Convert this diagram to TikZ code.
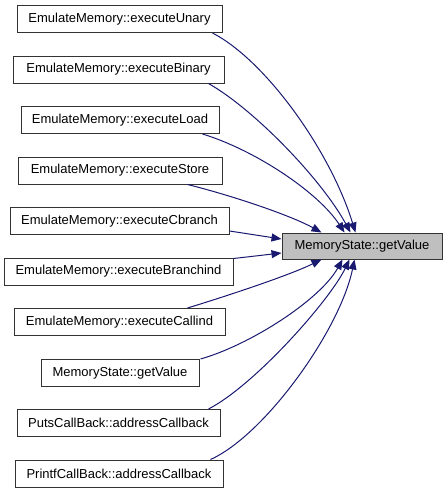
\documentclass[tikz,border=0pt]{standalone}
\usepackage{fontspec}
\setmainfont{Liberation Sans}
\definecolor{edgeblue}{RGB}{25,25,112}
\definecolor{nodegray}{RGB}{191,191,191}
\usetikzlibrary{arrows.meta,calc}

\tikzset{
  fn/.style={draw=black!80,line width=0.75pt,fill=white,inner sep=0pt,minimum height=20.25pt,
    font=\fontsize{9.75}{11}\selectfont},
  call/.style={edgeblue,line width=0.75pt,-{Triangle[length=7.5pt,width=6pt]}}
}

\begin{document}
\begin{tikzpicture}[x=0.75pt,y=-0.75pt]
        \useasboundingbox (0,0) rectangle (447,493);
        % callers
        \node[fn,minimum width=153.75pt] (unary)  at (119.5,19)   {EmulateMemory::executeUnary};
        \node[fn,minimum width=158.25pt] (binary) at (118.5,69.5) {EmulateMemory::executeBinary};
        \node[fn,minimum width=148.5pt]  (load)   at (120,120)    {EmulateMemory::executeLoad};
        \node[fn,minimum width=153pt]    (store)  at (120,170.5)  {EmulateMemory::executeStore};
        \node[fn,minimum width=164.25pt] (cbr)    at (119.5,221)  {EmulateMemory::executeCbranch};
        \node[fn,minimum width=171.75pt] (bri)    at (118.5,271.5){EmulateMemory::executeBranchind};
        \node[fn,minimum width=158.25pt] (calli)  at (119.5,322)  {EmulateMemory::executeCallind};
        \node[fn,minimum width=118.5pt]  (getv)   at (120,373)    {MemoryState::getValue};
        \node[fn,minimum width=152.25pt] (puts)   at (118.5,423)  {PutsCallBack::addressCallback};
        \node[fn,minimum width=156pt]    (printf) at (119,473.5)  {PrintfCallBack::addressCallback};
        % callee
        \node[fn,fill=nodegray,minimum width=120pt,minimum height=19.5pt] (target) at (362,246) {MemoryState::getValue};

        \draw[call] ($(unary.south east)+(-10,0)$) .. controls (265,60) and (330,150) .. ($(target.north west)+(74,0)$);
        \draw[call] ($(binary.south east)+(-16,0)$) .. controls (255,110) and (322,180) .. ($(target.north west)+(69,0)$);
        \draw[call] ($(load.south east)+(-17,0)$) .. controls (255,150) and (318,192) .. ($(target.north west)+(63,0)$);
        \draw[call] ($(store.south east)+(-35,0)$) .. controls (230,195) and (290,215) .. ($(target.north west)+(40,0)$);
        \draw[call] ($(cbr.east)+(0,10)$) -- ($(target.west)+(0,-7)$);
        \draw[call] ($(bri.north east)+(0,1)$) -- ($(target.west)+(0,7)$);
        \draw[call] ($(calli.north east)+(-38,0)$) .. controls (230,295) and (290,275) .. ($(target.south west)+(40,0)$);
        \draw[call] ($(getv.north east)+(1,0)$) .. controls (250,345) and (320,300) .. ($(target.south west)+(61,0)$);
        \draw[call] ($(puts.north east)+(-12,0)$) .. controls (255,385) and (330,300) .. ($(target.south west)+(68,0)$);
        \draw[call] ($(printf.north east)+(-13,0)$) .. controls (265,435) and (340,330) .. ($(target.south west)+(73,0)$);
      \end{tikzpicture}
\end{document}
